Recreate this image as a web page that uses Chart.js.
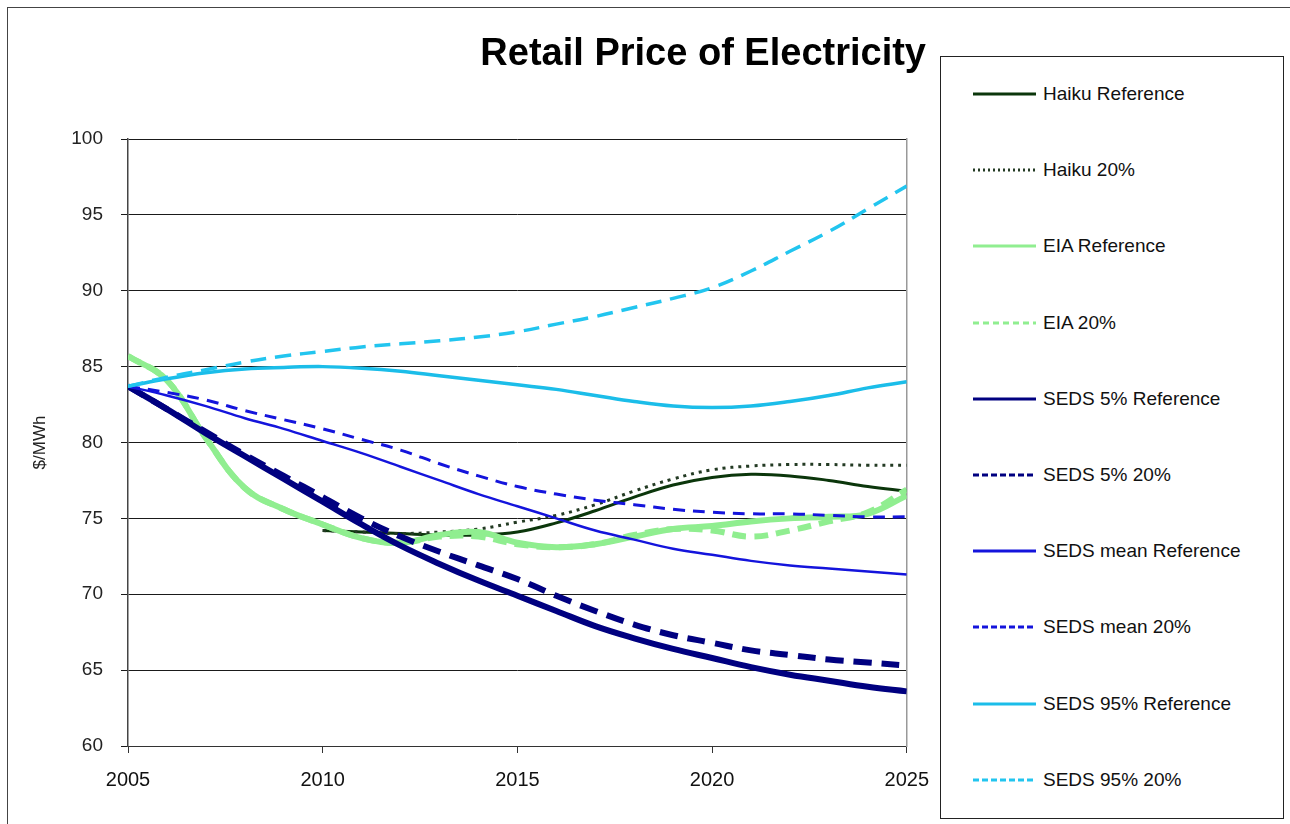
<!DOCTYPE html>
<html><head><meta charset="utf-8">
<script src="https://cdn.jsdelivr.net/npm/chart.js@4/dist/chart.umd.min.js"></script>
<style>
html,body{margin:0;padding:0;background:#fff;}
#wrap{position:relative;width:1290px;height:824px;overflow:hidden;font-family:"Liberation Sans",Arial,sans-serif;}
#frame{position:absolute;left:7px;top:7px;width:1300px;height:830px;border:1px solid #444;box-sizing:border-box;}
#c{position:absolute;left:0;top:0;}
#legend{position:absolute;left:940px;top:56px;width:344px;height:763px;border:1px solid #222;box-sizing:border-box;background:#fff;}
.item{position:absolute;left:32px;height:24px;display:flex;align-items:center;font-size:19px;color:#111;white-space:nowrap;}
.item svg{margin-right:7px;}
</style>
</head><body>
<div id="wrap">
<div id="frame"></div>
<canvas id="c" width="944" height="824"></canvas>
<div id="legend"></div>
</div>
<script>
const years = [2005,2006,2007,2008,2009,2010,2011,2012,2013,2014,2015,2016,2017,2018,2019,2020,2021,2022,2023,2024,2025];
const yTicks = [60,65,70,75,80,85,90,95,100];
const xTicks = [2005,2010,2015,2020,2025];
const seriesNames = ["Haiku Reference","Haiku 20%","EIA Reference","EIA 20%","SEDS 5% Reference","SEDS 5% 20%","SEDS mean Reference","SEDS mean 20%","SEDS 95% Reference","SEDS 95% 20%"];
const haikuRef   = [null,null,null,null,null,74.2,74.1,74.0,73.9,73.9,74.1,74.7,75.5,76.4,77.2,77.7,77.9,77.8,77.5,77.1,76.8];
const haiku20    = [null,null,null,null,null,74.2,74.1,74.0,74.1,74.3,74.75,75.2,75.9,76.8,77.6,78.2,78.45,78.55,78.55,78.5,78.5];
const eiaRef     = [85.7,84.1,80.3,77.0,75.6,74.6,73.7,73.4,73.9,74.1,73.4,73.1,73.3,73.8,74.3,74.5,74.8,75.0,75.1,75.3,76.5];
const eia20      = [85.7,84.1,80.3,77.0,75.6,74.6,73.7,73.4,73.8,73.8,73.3,73.1,73.3,73.9,74.3,74.2,73.8,74.2,74.8,75.4,76.9];
const seds5Ref   = [83.7,82.2,80.6,79.1,77.6,76.1,74.6,73.2,72.0,70.9,69.9,68.9,67.9,67.1,66.4,65.8,65.2,64.7,64.3,63.9,63.6];
const seds520    = [83.7,82.2,80.7,79.2,77.8,76.4,75.0,73.8,72.8,71.9,71.0,69.9,68.9,68.0,67.3,66.8,66.3,66.0,65.7,65.5,65.3];
const sedsMeanRef= [83.7,83.1,82.4,81.6,80.9,80.1,79.3,78.4,77.5,76.6,75.8,75.0,74.2,73.6,73.0,72.6,72.2,71.9,71.7,71.5,71.3];
const sedsMean20 = [83.7,83.3,82.8,82.1,81.5,80.9,80.2,79.5,78.6,77.8,77.1,76.6,76.2,75.9,75.6,75.4,75.3,75.3,75.2,75.1,75.1];
const seds95Ref  = [83.7,84.2,84.6,84.85,84.95,85.0,84.9,84.7,84.4,84.1,83.8,83.5,83.1,82.7,82.4,82.3,82.4,82.7,83.1,83.6,84.0];
const seds9520   = [83.7,84.3,84.8,85.3,85.7,86.0,86.3,86.5,86.7,86.95,87.3,87.8,88.3,88.9,89.5,90.2,91.3,92.6,93.9,95.4,96.9];

const seriesValues = [haikuRef,haiku20,eiaRef,eia20,seds5Ref,seds520,sedsMeanRef,sedsMean20,seds95Ref,seds9520];
const colors = ["#0b360b","#233a23","#90ee90","#90ee90","#000080","#000080","#1414dc","#1414dc","#1bbde9","#22c5ef"];
const widths = [3,3,6,6,6,6,2.5,3,3.5,3.5];
const dashes = [[],[3,5],[],[14,8],[],[18,10],[],[12,8],[],[16,9]];
const legendDashes = [[],[2,3],[],[6,4],[],[6,3],[],[6,3],[],[6,3]];

const FONT = '"Liberation Sans", Arial, sans-serif';

const datasets = seriesNames.map((name,i)=>({
  label: name,
  data: years.map((x,j)=>({x:x, y:seriesValues[i][j]})),
  borderColor: colors[i],
  backgroundColor: colors[i],
  borderWidth: widths[i],
  borderDash: dashes[i],
  pointRadius: 0,
  pointHoverRadius: 0,
  tension: 0.4,
  fill: false,
  order: 20 - i
}));

const chart = new Chart(document.getElementById('c'), {
  type: 'line',
  data: { datasets },
  options: {
    responsive: false,
    devicePixelRatio: 1,
    animation: false,
    layout: { padding: { left: 0, right: 18, top: 8, bottom: 18 } },
    plugins: {
      legend: { display: false },
      tooltip: { enabled: false },
      title: {
        display: true,
        text: 'Retail Price of Electricity',
        align: 'end',
        color: '#000',
        font: { family: FONT, size: 38, weight: 'bold' },
        padding: { top: 24, bottom: 61.4 }
      }
    },
    scales: {
      x: {
        type: 'linear',
        min: 2005, max: 2025,
        afterBuildTicks: s => { s.ticks = xTicks.map(v => ({value: v})); },
        ticks: { callback: v => String(v), color: '#111', font: { family: FONT, size: 20 }, padding: 15, maxRotation: 0 },
        grid: { drawOnChartArea: false, drawTicks: true, tickLength: 7, color: '#333' },
        border: { display: true, color: '#333', width: 1 },
        afterFit: s => { s.height = 60; }
      },
      y: {
        type: 'linear',
        min: 60, max: 100,
        afterBuildTicks: s => { s.ticks = yTicks.map(v => ({value: v})); },
        ticks: { color: '#222', font: { family: FONT, size: 19 }, padding: 18 },
        grid: { color: '#1a1a1a', lineWidth: 1, tickLength: 7, drawTicks: true },
        border: { display: true, color: '#444', width: 1.5 },
        title: { display: true, text: '$/MWh', color: '#222', font: { family: FONT, size: 17 }, padding: { top: 30, bottom: 0 } },
        afterFit: s => { s.width = 128; }
      },
      yR: {
        type: 'linear',
        position: 'right',
        min: 60, max: 100,
        ticks: { display: false },
        grid: { display: false, drawTicks: false },
        border: { display: true, color: '#999', width: 1.5 },
        afterFit: s => { s.width = 16; }
      }
    }
  }
});

// HTML legend built from the chart's datasets
const leg = document.getElementById('legend');
chart.data.datasets.forEach((ds,i)=>{
  const div = document.createElement('div');
  div.className = 'item';
  div.style.top = (37 + 76.2*i - 12) + 'px';
  const svgNS = 'http://www.w3.org/2000/svg';
  const svg = document.createElementNS(svgNS,'svg');
  svg.setAttribute('width','63'); svg.setAttribute('height','8');
  const ln = document.createElementNS(svgNS,'line');
  ln.setAttribute('x1','0'); ln.setAttribute('y1','4'); ln.setAttribute('x2','63'); ln.setAttribute('y2','4');
  ln.setAttribute('stroke', ds.borderColor);
  ln.setAttribute('stroke-width', '3');
  if (legendDashes[i].length) ln.setAttribute('stroke-dasharray', legendDashes[i].join(' '));
  svg.appendChild(ln);
  const span = document.createElement('span');
  span.textContent = ds.label;
  div.appendChild(svg); div.appendChild(span);
  leg.appendChild(div);
});
</script>
</body></html>
